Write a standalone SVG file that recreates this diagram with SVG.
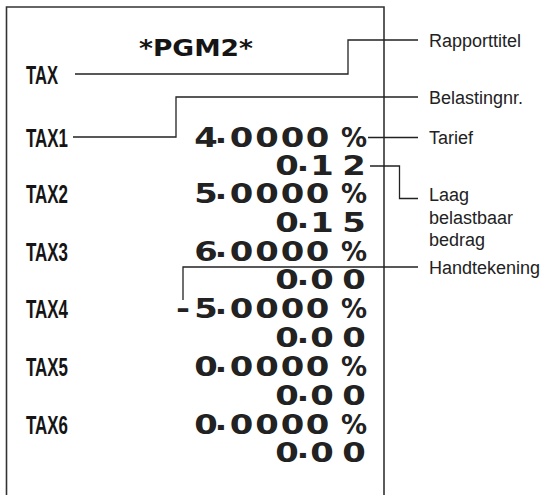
<svg xmlns="http://www.w3.org/2000/svg" width="545" height="495" viewBox="0 0 545 495">
<style>
.bg{fill:#fff}
.paper{fill:none;stroke:#333;stroke-width:1.6}
.ln{fill:none;stroke:#222;stroke-width:1.3}
.lbl{font-family:"Liberation Sans",Arial,sans-serif;font-size:18px;fill:#222}
.tax{font-family:"Liberation Sans",Arial,sans-serif;font-weight:bold;font-size:26px;fill:#151515}
.ttl{font-family:"DejaVu Sans",sans-serif;font-weight:bold;font-size:23px;fill:#151515}
.d{font-family:"DejaVu Sans",sans-serif;font-weight:bold;font-size:26px;fill:#222;text-anchor:middle}
</style>
<rect class="bg" x="0" y="0" width="545" height="495"/>
<g id="receipt">
<path class="paper" d="M6.5,496 V7 H384 V496"/>
<text class="ttl" x="139" y="56" textLength="114" lengthAdjust="spacingAndGlyphs">*PGM2*</text>
<g id="tax-labels">
<text class="tax" x="26" y="84" textLength="32" lengthAdjust="spacingAndGlyphs">TAX</text>
<text class="tax" x="26" y="147" textLength="42" lengthAdjust="spacingAndGlyphs">TAX1</text>
<text class="tax" x="26" y="203" textLength="42" lengthAdjust="spacingAndGlyphs">TAX2</text>
<text class="tax" x="26" y="261" textLength="42" lengthAdjust="spacingAndGlyphs">TAX3</text>
<text class="tax" x="26" y="318" textLength="42" lengthAdjust="spacingAndGlyphs">TAX4</text>
<text class="tax" x="26" y="376" textLength="42" lengthAdjust="spacingAndGlyphs">TAX5</text>
<text class="tax" x="26" y="434" textLength="42" lengthAdjust="spacingAndGlyphs">TAX6</text>
</g>
<g id="values">
<g transform="scale(1.3 1)">
<text class="d" x="158.46 170 185.77 205.38 225 244.23" dy="0 -4 4" y="147">4.0000</text>
<text class="d" x="220.77 233.08 247.69 272.31" dy="0 -4 4" y="175">0.12</text>
<text class="d" x="158.46 170 185.77 205.38 225 244.23" dy="0 -4 4" y="203">5.0000</text>
<text class="d" x="220.77 233.08 247.69 272.31" dy="0 -4 4" y="232">0.15</text>
<text class="d" x="158.46 170 185.77 205.38 225 244.23" dy="0 -4 4" y="261">6.0000</text>
<text class="d" x="220.77 233.08 247.69 272.31" dy="0 -4 4" y="289">0.00</text>
<text class="d" x="140.77 158.46 170 185.77 205.38 225 244.23" dy="0 0 -4 4" y="318">-5.0000</text>
<text class="d" x="220.77 233.08 247.69 272.31" dy="0 -4 4" y="347">0.00</text>
<text class="d" x="158.46 170 185.77 205.38 225 244.23" dy="0 -4 4" y="376">0.0000</text>
<text class="d" x="220.77 233.08 247.69 272.31" dy="0 -4 4" y="405">0.00</text>
<text class="d" x="158.46 170 185.77 205.38 225 244.23" dy="0 -4 4" y="434">0.0000</text>
<text class="d" x="220.77 233.08 247.69 272.31" dy="0 -4 4" y="462">0.00</text>
</g>
<text class="d" x="354" y="147">%</text>
<text class="d" x="354" y="203">%</text>
<text class="d" x="354" y="261">%</text>
<text class="d" x="354" y="318">%</text>
<text class="d" x="354" y="376">%</text>
<text class="d" x="354" y="434">%</text>
</g>
</g>
<g id="connectors">
<path class="ln" d="M75,74 H348 V40 H418"/>
<path class="ln" d="M73,137 H176 V97 H418"/>
<path class="ln" d="M368,137.5 H418"/>
<path class="ln" d="M370,166 H399.5 V198.5 H418"/>
<path class="ln" d="M418,267 H183 V300"/>
</g>
<g id="label-rapporttitel"><text class="lbl" x="429" y="46.5">Rapporttitel</text></g>
<g id="label-belastingnr"><text class="lbl" x="429" y="103.5">Belastingnr.</text></g>
<g id="label-tarief"><text class="lbl" x="429" y="144">Tarief</text></g>
<g id="label-laag"><text class="lbl" x="429" y="201"><tspan x="429">Laag</tspan><tspan x="429" dy="22.5">belastbaar</tspan><tspan x="429" dy="22.5">bedrag</tspan></text></g>
<g id="label-handtekening"><text class="lbl" x="429" y="273.5">Handtekening</text></g>
</svg>
